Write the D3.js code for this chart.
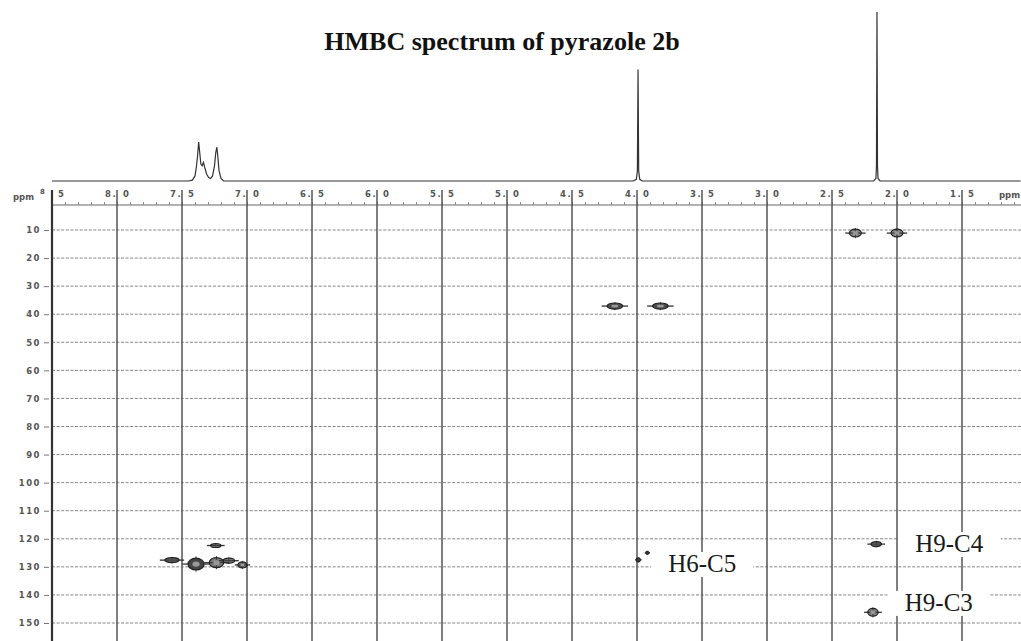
<!DOCTYPE html>
<html>
<head>
<meta charset="utf-8">
<script src="https://cdn.jsdelivr.net/npm/d3@7"></script>
<style>
  body { margin: 0; background: #fff; }
  svg { display: block; }
  .tick text { font-family: 'DejaVu Sans', sans-serif; }
</style>
</head>
<body>
<div id="chart"></div>
<script>
// 1H axis (ppm), drawn left to right
const hTicks = [8.5, 8.0, 7.5, 7.0, 6.5, 6.0, 5.5, 5.0, 4.5, 4.0, 3.5, 3.0, 2.5, 2.0, 1.5]
// 13C axis (ppm), drawn top to bottom
const cTicks = [10, 20, 30, 40, 50, 60, 70, 80, 90, 100, 110, 120, 130, 140, 150]

// 1D proton trace on top: [ppm, relative intensity]
const spectrum = [
  [8.50, 0], [7.45, 0], [7.42, 0.5], [7.40, 3], [7.39, 8], [7.38, 15], [7.372, 23],
  [7.365, 18], [7.355, 10], [7.345, 9], [7.335, 11], [7.325, 8], [7.31, 4], [7.295, 2],
  [7.28, 1.5], [7.265, 3], [7.25, 9], [7.24, 17], [7.232, 20], [7.225, 15], [7.215, 6],
  [7.20, 1.5], [7.18, 0],
  [4.03, 0], [4.005, 1], [3.997, 6], [3.992, 66], [3.987, 6], [3.979, 1], [3.96, 0],
  [2.18, 0], [2.162, 1.5], [2.158, 9], [2.154, 100], [2.150, 9], [2.146, 1.5], [2.13, 0],
  [1.05, 0]
]

// HMBC cross peaks: proton shift, carbon shift, half widths (ppm), strength
const peakH = [2.32, 2.00, 4.17, 3.82, 2.16, 2.185, 3.99, 3.92, 7.577, 7.392, 7.235, 7.24, 7.14, 7.035]
const peakC = [11.1, 11.1, 37.1, 37.1, 121.9, 146.2, 127.5, 125.0, 127.6, 129.0, 128.5, 122.4, 127.8, 129.3]
const peakWH = [0.046, 0.046, 0.06, 0.06, 0.04, 0.04, 0.015, 0.012, 0.055, 0.062, 0.055, 0.04, 0.045, 0.035]
const peakWC = [1.4, 1.4, 1.1, 1.1, 0.9, 1.4, 0.7, 0.5, 0.9, 2.1, 1.8, 0.7, 0.9, 1.1]
const peakI = [0.6, 0.6, 0.9, 0.9, 0.8, 0.7, 0.8, 0.5, 0.8, 1.0, 0.7, 0.6, 0.7, 0.8]

const labelText = ['H6-C5', 'H9-C4', 'H9-C3']
const labelH = [3.76, 1.86, 1.94]
const labelC = [131.8, 124.7, 145.7]

const width = 1021
const height = 641

const x = d3.scaleLinear().domain([8.5, 1.5]).range([52, 962])
const y = d3.scaleLinear().domain([10, 150]).range([230, 623])
const yi = d3.scaleLinear().domain([0, 100]).range([181, 12])

const svg = d3.select('#chart').append('svg')
  .attr('width', width)
  .attr('height', height)

svg.append('text')
  .attr('x', 502)
  .attr('y', 50)
  .attr('text-anchor', 'middle')
  .style('font-family', "'Liberation Serif', 'Times New Roman', serif")
  .style('font-weight', 'bold')
  .style('font-size', '26px')
  .attr('fill', '#111')
  .text('HMBC spectrum of pyrazole 2b')

// horizontal (13C) grid, dashed
svg.append('g').selectAll('line')
  .data(cTicks)
  .enter().append('line')
  .attr('x1', 52).attr('x2', width)
  .attr('y1', d => y(d)).attr('y2', d => y(d))
  .attr('stroke', '#858585')
  .attr('stroke-width', 1)
  .attr('stroke-dasharray', '3,1.6')

// 13C axis labels
let yAxis = svg.append('g')
  .attr('transform', 'translate(49,0)')
  .call(d3.axisLeft(y).tickValues(cTicks).tickSize(5).tickPadding(3))
yAxis.select('.domain').remove()
yAxis.selectAll('.tick line').attr('stroke', '#777')
yAxis.selectAll('.tick text')
  .attr('fill', '#555')
  .style('font-size', '8.5px')
  .style('font-weight', 'bold')
  .style('letter-spacing', '1.5px')

// ruler with minor ticks under the 1D trace
svg.append('line')
  .attr('x1', 52).attr('x2', width)
  .attr('y1', 205).attr('y2', 205)
  .attr('stroke', '#666')
let minor = d3.range(85, 10, -1).map(d => d / 10)
let xAxis = svg.append('g')
  .attr('transform', 'translate(0,205)')
  .call(d3.axisTop(x).tickValues(minor).tickSize(3).tickFormat(''))
xAxis.select('.domain').remove()
xAxis.selectAll('.tick line').attr('stroke', '#888')

// vertical (1H) grid
svg.append('g').selectAll('line')
  .data(hTicks)
  .enter().append('line')
  .attr('x1', d => x(d)).attr('x2', d => x(d))
  .attr('y1', 190).attr('y2', height)
  .attr('stroke', (d, i) => i === 0 ? '#333' : '#555')
  .attr('stroke-width', (d, i) => i === 0 ? 2.2 : 1.5)

// split tick labels, digit | decimal around each line
let hLab = svg.append('g')
  .style('font-family', "'DejaVu Sans', sans-serif")
  .style('font-size', '8.5px')
  .style('font-weight', 'bold')
  .attr('fill', '#555')
let parts = hTicks.map(d => d.toFixed(1).split('.'))
hLab.selectAll('.int')
  .data(hTicks)
  .enter().append('text')
  .attr('class', 'int')
  .attr('x', d => x(d) - 9)
  .attr('y', 197)
  .attr('text-anchor', 'middle')
  .text((d, i) => i === 0 ? '' : parts[i][0])
hLab.selectAll('.dot')
  .data(hTicks)
  .enter().append('text')
  .attr('class', 'dot')
  .attr('x', d => x(d) - 3)
  .attr('y', 197)
  .attr('text-anchor', 'middle')
  .text((d, i) => i === 0 ? '' : '.')
hLab.selectAll('.dec')
  .data(hTicks)
  .enter().append('text')
  .attr('class', 'dec')
  .attr('x', d => x(d) + 9)
  .attr('y', 197)
  .attr('text-anchor', 'middle')
  .text((d, i) => parts[i][1])
hLab.append('text').attr('x', 13).attr('y', 200).text('ppm')
hLab.append('text').attr('x', 40).attr('y', 194).style('font-size', '7px').text('8')
hLab.append('text').attr('x', 999).attr('y', 198).text('ppm')

// 1D trace
let line = d3.line()
  .x(d => x(d[0]))
  .y(d => yi(d[1]))
svg.append('path')
  .datum(spectrum)
  .attr('d', line)
  .attr('fill', 'none')
  .attr('stroke', '#333')
  .attr('stroke-width', 1.2)

// cross peaks as small contour blobs
let peaks = peakH.map((h, i) => ({
  h: h, c: peakC[i], rx: x(8.5 - peakWH[i]) - x(8.5), ry: y(10 + peakWC[i]) - y(10), s: peakI[i]
}))
let pk = svg.append('g').selectAll('g')
  .data(peaks)
  .enter().append('g')
  .attr('transform', d => 'translate(' + x(d.h) + ',' + y(d.c) + ')')
pk.append('line')
  .attr('x1', d => -d.rx * 1.7).attr('x2', d => d.rx * 1.7)
  .attr('stroke', '#333')
  .attr('stroke-width', 1.3)
pk.append('line')
  .attr('y1', d => -d.ry * 1.3).attr('y2', d => d.ry * 1.3)
  .attr('stroke', '#444')
  .attr('stroke-width', 1)
pk.append('ellipse')
  .attr('rx', d => d.rx)
  .attr('ry', d => d.ry)
  .attr('fill', '#444')
  .attr('fill-opacity', d => d.s)
  .attr('stroke', '#222')
  .attr('stroke-width', 1.2)
pk.filter(d => d.ry > 3)
  .append('ellipse')
  .attr('rx', d => d.rx * 0.45)
  .attr('ry', d => d.ry * 0.45)
  .attr('fill', '#999')

// assignment labels on white boxes
let lab = svg.append('g').selectAll('g')
  .data(labelText)
  .enter().append('g')
lab.append('rect').attr('fill', '#fff')
lab.append('text')
  .attr('x', (d, i) => x(labelH[i]))
  .attr('y', (d, i) => y(labelC[i]))
  .style('font-family', "'Liberation Serif', 'Times New Roman', serif")
  .style('font-size', '25px')
  .attr('fill', '#1a1a1a')
  .text(d => d)
lab.each(function () {
  let g = d3.select(this)
  let b = g.select('text').node().getBBox()
  g.select('rect')
    .attr('x', b.x - 17)
    .attr('y', b.y + 2)
    .attr('width', b.width + 34)
    .attr('height', b.height - 2)
})
</script>
</body>
</html>
